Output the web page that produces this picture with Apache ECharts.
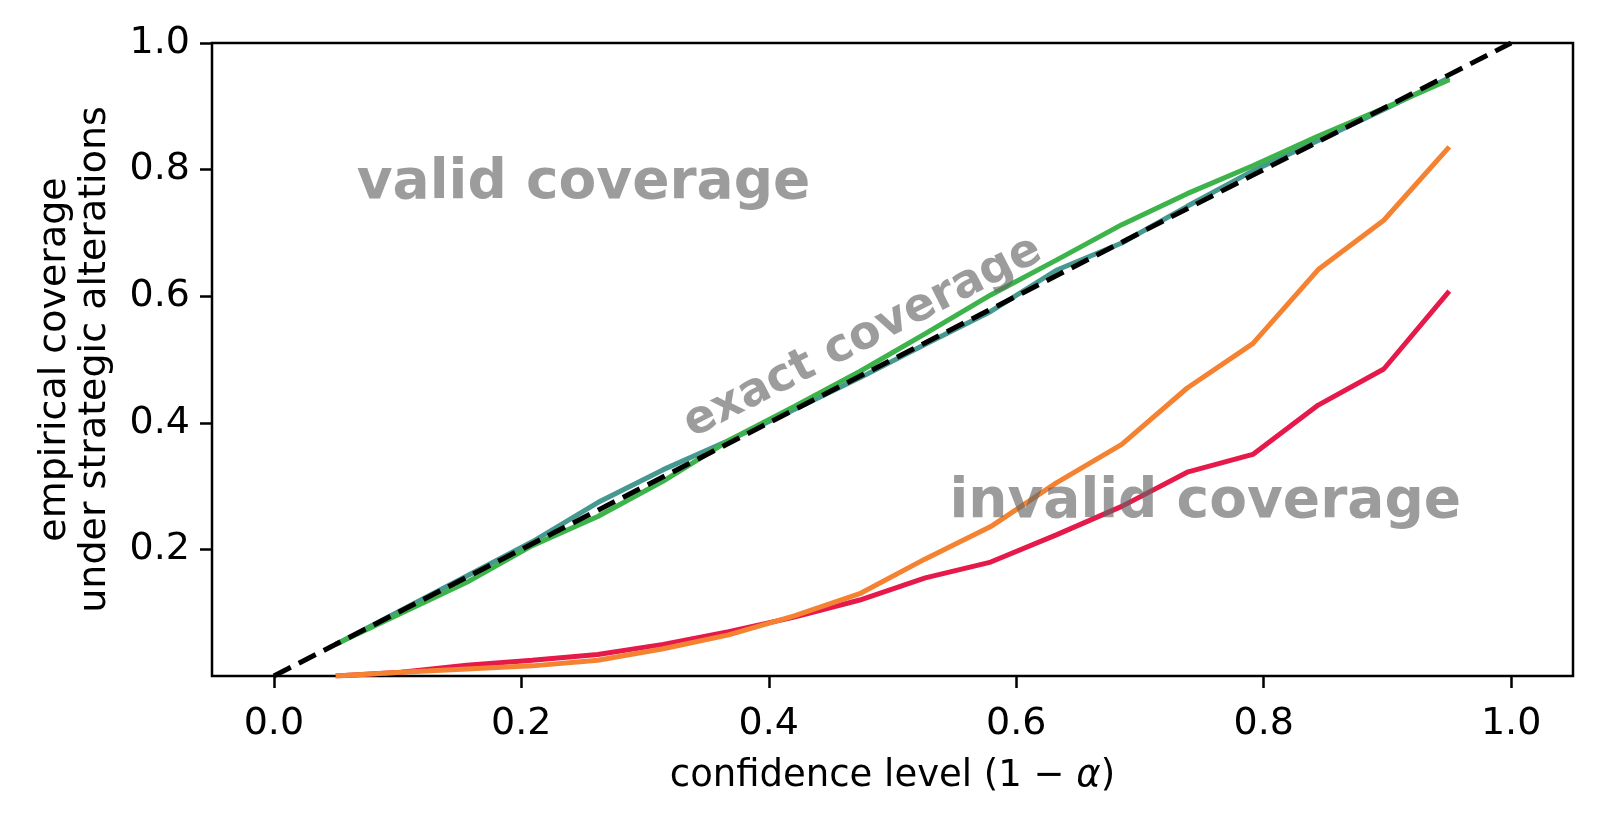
<!DOCTYPE html>
<html lang="en">
<head>
    <meta charset="UTF-8">
    <title>coverage</title>
    <style>
        html, body { margin: 0; padding: 0; background: #fff; }
        #main { width: 1600px; height: 822px; }
    </style>
</head>
<body>
<div id="main"></div>
<script src="https://cdn.jsdelivr.net/npm/echarts@6.0.0/dist/echarts.min.js"></script>
<script>
    // confidence levels (x) and empirical coverage per method
    var levels = [0.05, 0.1029, 0.1559, 0.2088, 0.2618, 0.3147, 0.3676, 0.4206, 0.4735,
        0.5265, 0.5794, 0.6324, 0.6853, 0.7382, 0.7912, 0.8441, 0.8971, 0.95];
    var tealCov = [0.05, 0.104, 0.158, 0.212, 0.274, 0.326, 0.372, 0.421, 0.471,
        0.524, 0.576, 0.641, 0.684, 0.742, 0.798, 0.846, 0.895, 0.945];
    var greenCov = [0.05, 0.099, 0.148, 0.206, 0.252, 0.308, 0.372, 0.426, 0.481,
        0.541, 0.602, 0.657, 0.713, 0.762, 0.806, 0.853, 0.897, 0.942];
    var redCov = [0.0, 0.006, 0.017, 0.025, 0.034, 0.05, 0.07, 0.093, 0.12,
        0.155, 0.18, 0.223, 0.268, 0.322, 0.35, 0.428, 0.485, 0.608];
    var orangeCov = [0.0, 0.006, 0.011, 0.016, 0.025, 0.043, 0.065, 0.095, 0.13,
        0.185, 0.236, 0.305, 0.366, 0.455, 0.525, 0.642, 0.72, 0.836];
    var diagonal = [[0, 0], [1, 1]];
    var xTicks = [0, 0.2, 0.4, 0.6, 0.8, 1.0];
    var yTicks = [0.2, 0.4, 0.6, 0.8, 1.0];
    // text annotations: [x, y, text]
    var notes = [[0.067, 0.777, 'valid coverage'], [0.546, 0.274, 'invalid coverage']];
    var exactNote = [0.476, 0.535, 'exact coverage'];

    var font = 'DejaVu Sans';
    var noteColor = 'rgba(100,100,100,0.8)';

    function pairs(ys) {
        var out = [];
        for (var i = 0; i < levels.length; i++) {
            out.push([levels[i], ys[i]]);
        }
        return out;
    }

    function lineSeries(ys, color) {
        return {
            type: 'line',
            data: pairs(ys),
            symbol: 'none',
            lineStyle: {color: color, width: 5},
            itemStyle: {color: color}
        };
    }

    var option = {
        animation: false,
        backgroundColor: '#fff',
        grid: {
            left: 212, top: 43, width: 1361, height: 633,
            show: true, borderColor: '#000', borderWidth: 2.5, backgroundColor: 'transparent'
        },
        xAxis: {
            type: 'value',
            min: -0.05,
            max: 1.05,
            name: '{n|confidence level (1 − }{i|α}{n|)}',
            nameLocation: 'middle',
            nameGap: 82,
            nameTextStyle: {
                rich: {
                    n: {fontFamily: font, fontSize: 37, color: '#000'},
                    i: {fontFamily: font, fontSize: 37, color: '#000', fontStyle: 'italic'}
                }
            },
            axisLine: {show: false, onZero: false},
            axisTick: {show: true, inside: false, length: 12, customValues: xTicks,
                lineStyle: {color: '#000', width: 2.5}},
            axisLabel: {customValues: xTicks, margin: 29, fontFamily: font, fontSize: 38, color: '#000',
                formatter: function (v) { return v.toFixed(1); }},
            splitLine: {show: false}
        },
        yAxis: {
            type: 'value',
            min: 0,
            max: 1,
            name: 'empirical coverage\nunder strategic alterations',
            nameLocation: 'middle',
            nameRotate: 90,
            nameGap: 97,
            nameTextStyle: {fontFamily: font, fontSize: 38, color: '#000', lineHeight: 40},
            axisLine: {show: false, onZero: false},
            axisTick: {show: true, inside: false, length: 12, customValues: yTicks,
                lineStyle: {color: '#000', width: 2.5}},
            axisLabel: {customValues: yTicks, margin: 22, fontFamily: font, fontSize: 38, color: '#000',
                formatter: function (v) { return v.toFixed(1); }},
            splitLine: {show: false}
        },
        series: [
            lineSeries(tealCov, '#469990'),
            lineSeries(greenCov, '#3cb44b'),
            lineSeries(redCov, '#e6194b'),
            lineSeries(orangeCov, '#f58231'),
            {
                type: 'line',
                data: diagonal,
                symbol: 'none',
                lineStyle: {color: '#000', width: 5, type: [19, 9]}
            },
            {
                type: 'scatter',
                data: notes,
                symbolSize: 1,
                itemStyle: {color: 'transparent'},
                z: 10,
                label: {
                    show: true,
                    position: 'inside',
                    align: 'left',
                    verticalAlign: 'middle',
                    formatter: function (p) { return p.data[2]; },
                    fontFamily: font, fontSize: 55, fontWeight: 'bold', color: noteColor
                }
            },
            {
                type: 'scatter',
                data: [exactNote],
                symbolSize: 1,
                itemStyle: {color: 'transparent'},
                z: 10,
                label: {
                    show: true,
                    position: 'inside',
                    align: 'center',
                    verticalAlign: 'middle',
                    rotate: 27,
                    formatter: function (p) { return p.data[2]; },
                    fontFamily: font, fontSize: 46, fontWeight: 'bold', color: noteColor
                }
            }
        ]
    };

    var myChart = echarts.init(document.getElementById('main'));
    myChart.setOption(option);
    window.onresize = function () {
        myChart.resize();
    };
</script>
</body>
</html>
